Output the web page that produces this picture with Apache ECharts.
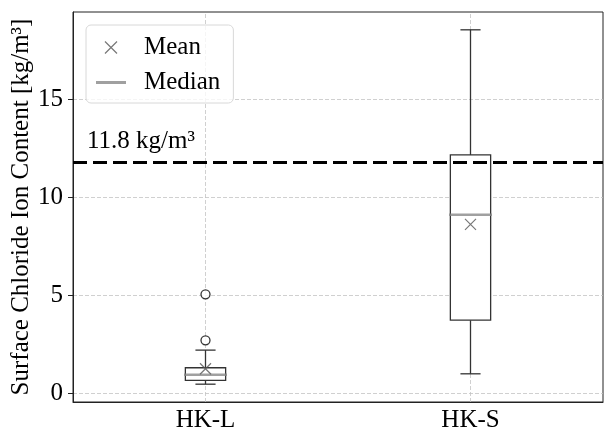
<!DOCTYPE html>
<html>
<head>
<meta charset="utf-8">
<script src="https://cdn.jsdelivr.net/npm/echarts@6/dist/echarts.min.js"></script>
<style>
  html, body { margin: 0; padding: 0; background: #fff; }
  #chart { width: 604px; height: 430px; }
</style>
</head>
<body>
<div id="chart"></div>
<script>
// box plot statistics
const categories = ['HK-L', 'HK-S'];
const whiskerLow = [0.46, 0.99];
const quartile1 = [0.65, 3.73];
const medians = [0.94, 9.11];
const quartile3 = [1.3, 12.17];
const whiskerHigh = [2.2, 18.56];
const means = [1.25, 8.62];
const outliers = [[0, 2.7], [0, 5.05]];
const threshold = 11.8;
const yTicks = [0, 5, 10, 15];

const FONT = 'Liberation Serif';
const AXIS_COLOR = '#222';
const GRID_COLOR = '#c4c4c4';
const crossPath = 'path://M0,0L10,10M10,0L0,10';

const boxData = categories.map((c, i) => [i, whiskerLow[i], quartile1[i], quartile3[i], whiskerHigh[i]]);
const meanData = categories.map((c, i) => [i, means[i]]);
const medianData = categories.map((c, i) => [i, medians[i]]);

// draws box, whiskers and caps (caps half the box width, like matplotlib)
function renderBox(params, api) {
    const x = api.value(0);
    const lo = api.coord([x, api.value(1)]);
    const b1 = api.coord([x, api.value(2)]);
    const b3 = api.coord([x, api.value(3)]);
    const hi = api.coord([x, api.value(4)]);
    const band = api.size([1, 0])[0];
    const hw = band * 0.076;
    const cw = hw / 2;
    const stroke = { stroke: '#333', lineWidth: 1.3, fill: null };
    return {
        type: 'group',
        children: [
            { type: 'line', shape: { x1: lo[0], y1: lo[1], x2: lo[0], y2: b1[1] }, style: stroke },
            { type: 'line', shape: { x1: hi[0], y1: hi[1], x2: hi[0], y2: b3[1] }, style: stroke },
            { type: 'line', shape: { x1: lo[0] - cw, y1: lo[1], x2: lo[0] + cw, y2: lo[1] }, style: stroke },
            { type: 'line', shape: { x1: hi[0] - cw, y1: hi[1], x2: hi[0] + cw, y2: hi[1] }, style: stroke },
            {
                type: 'rect',
                shape: { x: b1[0] - hw, y: b3[1], width: hw * 2, height: b1[1] - b3[1] },
                style: { fill: '#fff', stroke: '#333', lineWidth: 1.3 }
            }
        ]
    };
}

const chart = echarts.init(document.getElementById('chart'));

const option = {
    animation: false,
    textStyle: { fontFamily: FONT },
    grid: {
        left: 73, right: 1, top: 12, bottom: 28,
        outerBoundsMode: 'none',
        containLabel: false,
        show: true, borderColor: AXIS_COLOR, borderWidth: 1
    },
    legend: {
        orient: 'vertical',
        left: 86,
        top: 25,
        itemWidth: 30,
        itemHeight: 12,
        itemGap: 10,
        padding: [10, 13, 8, 10],
        borderColor: '#d8d8d8',
        borderWidth: 1,
        borderRadius: 5,
        backgroundColor: 'rgba(255,255,255,0.8)',
        textStyle: { fontFamily: FONT, fontSize: 25, color: '#000', padding: [0, 0, 0, 13] },
        data: [
            { name: 'Mean', icon: crossPath, itemStyle: { color: 'transparent', borderColor: '#555', borderWidth: 1.2 } },
            { name: 'Median', icon: 'path://M0,0H30V3H0Z', itemStyle: { color: '#888', borderWidth: 0 } }
        ]
    },
    xAxis: {
        type: 'category',
        data: categories,
        axisLine: { onZero: false, lineStyle: { color: AXIS_COLOR } },
        axisTick: { alignWithLabel: true, length: 5, lineStyle: { color: AXIS_COLOR } },
        axisLabel: { fontFamily: FONT, fontSize: 25, color: '#000', margin: 6 },
        splitLine: { show: false }
    },
    yAxis: {
        type: 'value',
        min: -0.45,
        max: 19.47,
        name: 'Surface Chloride Ion Content [kg/m³]',
        nameLocation: 'middle',
        nameGap: 39,
        nameMoveOverlap: false,
        nameTextStyle: { fontFamily: FONT, fontSize: 25, color: '#000' },
        axisLine: { show: true, lineStyle: { color: AXIS_COLOR } },
        axisTick: { show: true, length: 5, customValues: yTicks, lineStyle: { color: AXIS_COLOR } },
        axisLabel: { fontFamily: FONT, fontSize: 25, color: '#000', margin: 10, customValues: yTicks },
        splitLine: { show: true, lineStyle: { color: GRID_COLOR, type: [4, 2], width: 0.8 } }
    },
    series: [
        {
            // vertical grid lines through category centres
            type: 'scatter',
            data: [],
            z: 1,
            silent: true,
            markLine: {
                z: 1,
                silent: true,
                symbol: 'none',
                label: { show: false },
                lineStyle: { color: GRID_COLOR, type: [4, 2], width: 0.8 },
                data: categories.map((c, i) => ({ xAxis: i }))
            }
        },
        {
            type: 'custom',
            name: 'box',
            renderItem: renderBox,
            data: boxData,
            z: 3,
            markLine: {
                z: 6,
                silent: true,
                symbol: 'none',
                lineStyle: { color: '#000', type: [14, 6], width: 3 },
                label: {
                    show: true,
                    position: 'insideStartTop',
                    distance: [14, 8],
                    formatter: threshold + ' kg/m³',
                    fontFamily: FONT,
                    fontSize: 25,
                    color: '#000'
                },
                data: [{ yAxis: threshold }]
            }
        },
        {
            type: 'scatter',
            name: 'Median',
            data: medianData,
            symbol: 'rect',
            symbolSize: [43, 2.5],
            itemStyle: { color: '#888' },
            z: 4
        },
        {
            type: 'scatter',
            name: 'Mean',
            data: meanData,
            symbol: crossPath,
            symbolSize: 11,
            itemStyle: { color: 'transparent', borderColor: '#555', borderWidth: 1.2 },
            z: 5
        },
        {
            type: 'scatter',
            name: 'outliers',
            data: outliers,
            symbol: 'circle',
            symbolSize: 9,
            itemStyle: { color: '#fff', borderColor: '#000', borderWidth: 1.3 },
            z: 5
        }
    ]
};

chart.setOption(option);
</script>
</body>
</html>
